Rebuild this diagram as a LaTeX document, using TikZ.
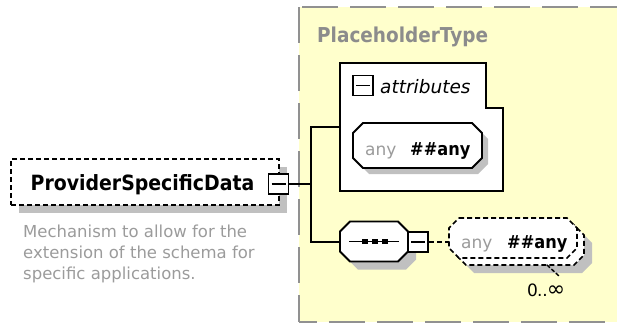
\documentclass[tikz,border=0pt]{standalone}
\usepackage{fontspec}
\setmainfont{DejaVu Sans}
\newfontfamily\bfam[FakeStretch=0.9]{DejaVu Sans}
\newcommand{\fPSD}{\bfam\bfseries\fontsize{21pt}{25pt}\selectfont}
\newcommand{\fPH}{\bfam\bfseries\fontsize{20.5pt}{24pt}\selectfont}
\newcommand{\fBold}{\bfam\bfseries\fontsize{18pt}{22pt}\selectfont}
\newcommand{\fReg}{\fontsize{17pt}{21pt}\selectfont}
\newcommand{\fDesc}{\fontsize{16.5pt}{21pt}\selectfont}
\newcommand{\fMult}{\fontsize{17pt}{21pt}\selectfont}
\newcommand{\fInf}{\fontsize{22pt}{24pt}\selectfont}
\newcommand{\fItal}{\itshape\fontsize{18.5pt}{22pt}\selectfont}
\newcommand{\oct}[5]{({#1+#5},#2) -- ({#3-#5},#2) -- (#3,{#2+#5}) -- (#3,{#4-#5}) -- ({#3-#5},#4) -- ({#1+#5},#4) -- (#1,{#4-#5}) -- (#1,{#2+#5}) -- cycle}
\definecolor{ybg}{RGB}{255,255,204}
\definecolor{cgray}{RGB}{145,145,145}
\definecolor{shgray}{RGB}{192,192,192}
\definecolor{txtgray}{RGB}{155,155,155}
\definecolor{phgray}{RGB}{140,140,140}
\begin{document}
\begin{tikzpicture}[x=1pt,y=-1pt,line join=miter,
  lbl/.style={inner sep=0pt,anchor=base west},
  conn/.style={draw=black,line width=2pt},
  dashbk/.style={draw=black,line width=1.6pt,dash pattern=on 5pt off 3pt},
  cdash/.style={draw=cgray,line width=2pt,dash pattern=on 36pt off 12pt},
  shape1/.style={fill=white,draw=black,line width=1.8pt},
  anchorbox/.style={draw=none,inner sep=0pt,rectangle},
  minusbox/.style={draw=black,fill=white,line width=1.8pt,minimum size=20pt,inner sep=0pt,
    path picture={\draw[line width=1.6pt] ([xshift=-7pt]path picture bounding box.center) -- ([xshift=7pt]path picture bounding box.center);}}]
\useasboundingbox (0,0) rectangle (617,325);
\clip (0,0) rectangle (617,325);
% container
\fill[ybg] (299,7) rectangle (640,322);
\draw[cdash] (299,7) -- (299,322);
\draw[cdash,dash phase=45pt] (299,7) -- (640,7);
\draw[cdash,dash phase=18pt] (299,322) -- (640,322);
\node[lbl,text=phgray] (phlabel) at (317,42) {\fPH PlaceholderType};
% ProviderSpecificData
\fill[shgray] (19,167) rectangle (287,213);
\node[dashbk,fill=white,minimum width=268pt,minimum height=46pt,inner sep=0pt] (psd) at (145,182) {};
\node[inner sep=0pt,anchor=base] (psdlabel) at (142.5,190.5) {\fPSD ProviderSpecificData};
\node[minusbox] (psdsq) at (278.5,184) {};
\node[lbl,text=txtgray] (desc1) at (23,237) {\fDesc Mechanism to allow for the};
\node[lbl,text=txtgray] (desc2) at (23,258) {\fDesc extension of the schema for};
\node[lbl,text=txtgray] (desc3) at (23,279) {\fDesc specific applications.};
% attributes box
\filldraw[fill=white,draw=black,line width=2pt] (340,63) -- (486,63) -- (486,108) -- (503,108) -- (503,191) -- (340,191) -- cycle;
\coordinate (attrW) at (340,127);
\node[minusbox] (attrsq) at (363,85.5) {};
\node[lbl] (attrlabel) at (380,93) {\fItal attributes};
\fill[shgray] \oct{359}{129}{488}{174}{10};
\filldraw[shape1] \oct{353}{123}{482}{168}{10};
\node[lbl,text=txtgray] (any1a) at (365,155) {\fReg any};
\node[lbl] (any1b) at (410,155) {\fBold \#\#any};
% sequence
\node[anchorbox,minimum width=68pt,minimum height=40pt] (seq) at (374,241.5) {};
\fill[shgray] \oct{348}{229.5}{416}{269.5}{10};
\filldraw[shape1] \oct{340}{221.5}{408}{261.5}{10};
\draw[line width=1.8pt] (349,241.5) -- (399,241.5);
\fill (361.5,238.6) rectangle (367.5,244.4);
\fill (371.5,238.6) rectangle (377.5,244.4);
\fill (381.5,238.6) rectangle (387.5,244.4);
\node[minusbox] (seqsq) at (418.3,241.7) {};
% connectors
\coordinate (j1) at (310.5,184);
\coordinate (jt) at (310.5,127);
\coordinate (jb) at (310.5,241.5);
\draw[conn] (psdsq.east) -- (j1);
\draw[conn] (attrW) -- (jt) -- (jb) -- (seq.west);
% any multiple
\node[anchorbox,minimum width=128pt,minimum height=40pt] (anyf) at (513,238) {};
\fill[shgray] \oct{464}{233}{592}{273}{10};
\filldraw[dashbk,fill=white] \oct{456}{225}{584}{265}{10};
\filldraw[dashbk,fill=white] \oct{449}{218}{577}{258}{10};
\draw[dashbk] (seqsq.east) -- (seqsq.east -| anyf.west);
\node[lbl,text=txtgray] (any2a) at (461,248) {\fReg any};
\node[lbl] (any2b) at (507,248) {\fBold \#\#any};
\draw[line width=1.5pt,dash pattern=on 4pt off 2pt] (547,265) -- (559,276);
\node[lbl] (mult) at (527,296.5) {\fMult 0\kern-1pt..\kern-1pt{\fInf ∞}};
\end{tikzpicture}
\end{document}
